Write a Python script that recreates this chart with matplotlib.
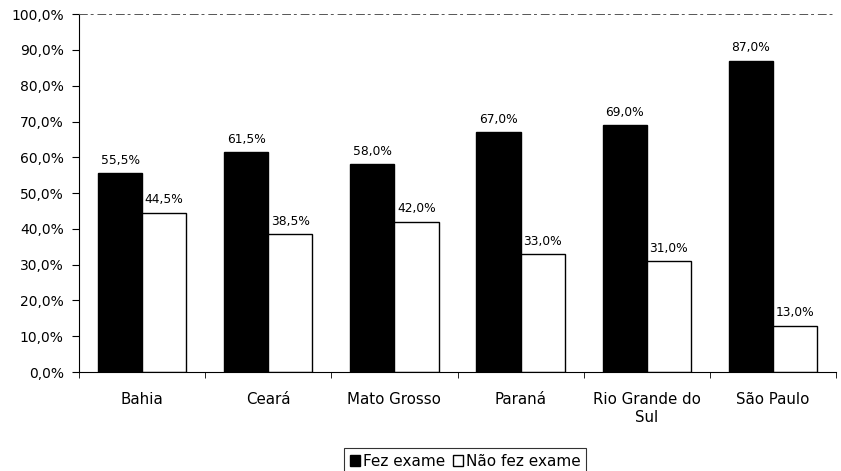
import numpy as np
import matplotlib.pyplot as plt
from matplotlib.ticker import FuncFormatter

plt.rcParams['font.family'] = ['DejaVu Sans']

estados = ['Bahia', 'Ceará', 'Mato Grosso', 'Paraná', 'Rio Grande do\nSul', 'São Paulo']
fez_exame = [55.5, 61.5, 58.0, 67.0, 69.0, 87.0]
nao_fez_exame = [44.5, 38.5, 42.0, 33.0, 31.0, 13.0]


def pct(v):
    return f'{v:.1f}%'.replace('.', ',')


fig = plt.figure(figsize=(8.41, 4.71), dpi=100)
ax = fig.add_axes([0.094, 0.21, 0.9, 0.76])

x = np.arange(len(estados))
w = 0.35
b1 = ax.bar(x - w / 2, fez_exame, w, color='black', edgecolor='black', linewidth=1, label='Fez exame')
b2 = ax.bar(x + w / 2, nao_fez_exame, w, color='white', edgecolor='black', linewidth=1, label='Não fez exame')

for bars, vals in ((b1, fez_exame), (b2, nao_fez_exame)):
    for r, v in zip(bars, vals):
        ax.text(r.get_x() + r.get_width() / 2, v + 1.8, pct(v), ha='center', va='bottom', fontsize=8.8)

ax.set_xlim(-0.5, len(estados) - 0.5)
ax.set_ylim(0, 100)
ax.set_yticks(np.arange(0, 101, 10))
ax.yaxis.set_major_formatter(FuncFormatter(lambda v, _: pct(v)))
ax.set_xticks(x)
ax.set_xticklabels(estados, fontsize=10.8, linespacing=1.3)
ax.tick_params(axis='x', length=0, pad=14)
ax.set_xticks(np.arange(-0.5, len(estados), 1), minor=True)
ax.tick_params(axis='x', which='minor', length=4, direction='out')
ax.tick_params(axis='y', length=5, labelsize=10, pad=6)

ax.spines['right'].set_visible(False)
ax.spines['top'].set_linestyle((0, (8, 4, 2, 5)))
ax.spines['top'].set_linewidth(0.7)
ax.spines['top'].set_color('#555555')

leg = fig.legend(loc='lower center', bbox_to_anchor=(0.553, -0.025), ncol=2, frameon=True,
                 fancybox=False, edgecolor='black', fontsize=11, handlelength=0.7,
                 handleheight=0.7, handletextpad=0.15, columnspacing=0.5, borderpad=0.4)
leg.get_frame().set_linewidth(0.8)

fig.savefig('out.png', dpi=100)
